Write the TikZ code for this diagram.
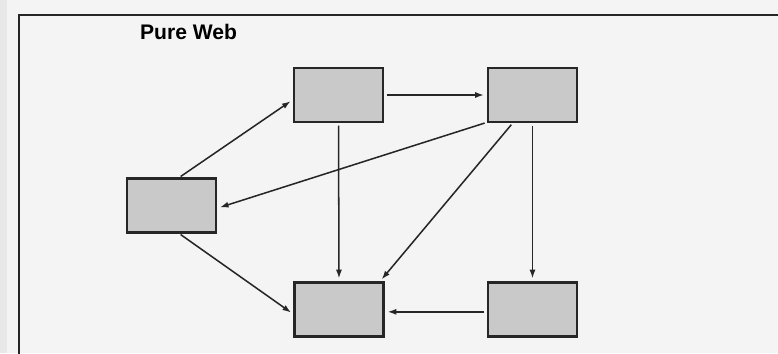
\documentclass[tikz,border=0pt]{standalone}
\usepackage{fontspec}
\setmainfont{Liberation Sans}
\usetikzlibrary{arrows.meta}

\definecolor{paper}{gray}{0.955}
\definecolor{pagestrip}{gray}{0.91}
\definecolor{boxfill}{gray}{0.79}
\definecolor{ink}{gray}{0.15}

\begin{document}
\begin{tikzpicture}[x = 0.03cm, y = -0.03cm,
	page/.style = {rectangle, draw = ink, line width = 1.8pt, fill = boxfill,
		inner sep = 0pt, outer sep = 0pt, minimum width = 2.67cm, minimum height = 1.62cm},
	link/.style = {draw = ink, line width = 1.3pt, -{Latex[length = 2.6mm, width = 1.8mm]},
		shorten < = 3pt, shorten > = 3.5pt}]
	\useasboundingbox (0, 0) rectangle (778, 353);
	\fill[paper] (0, 0) rectangle (778, 353);
	\fill[pagestrip] (0, 0) rectangle (7, 353);
	\clip (0, 0) rectangle (778, 353);
	
	% frame and title
	\draw[ink, line width = 1.6pt] (800, 15) -- (19, 15) -- (19, 370);
	\node[anchor = base west, font = \fontsize{18}{21}\selectfont\bfseries] (title) at (136, 39.3) {Pure Web};
	
	% pages of the site
	\node[page] (top) at (338.5, 95) {};
	\node[page] (topright) at (532.5, 95) {};
	\node[page] (left) at (171.5, 205.5) {};
	\node[page] (bottom) at (339, 309.5) {};
	\node[page] (bottomright) at (532.5, 309.5) {};
	
	% links
	\draw[link] (left.77) -- (top.185);
	\draw[link] (top.east) -- (topright.west);
	\draw[link] (topright.south west) -- (left.-4);
	\draw[link] (top.south) -- (bottom.north);
	\draw[link] (topright.235) -- (bottom.34);
	\draw[link] (topright.south) -- (bottomright.north);
	\draw[link] (bottomright.183) -- (bottom.-3);
	\draw[link] (left.-77) -- (bottom.187);
\end{tikzpicture}
\end{document}
